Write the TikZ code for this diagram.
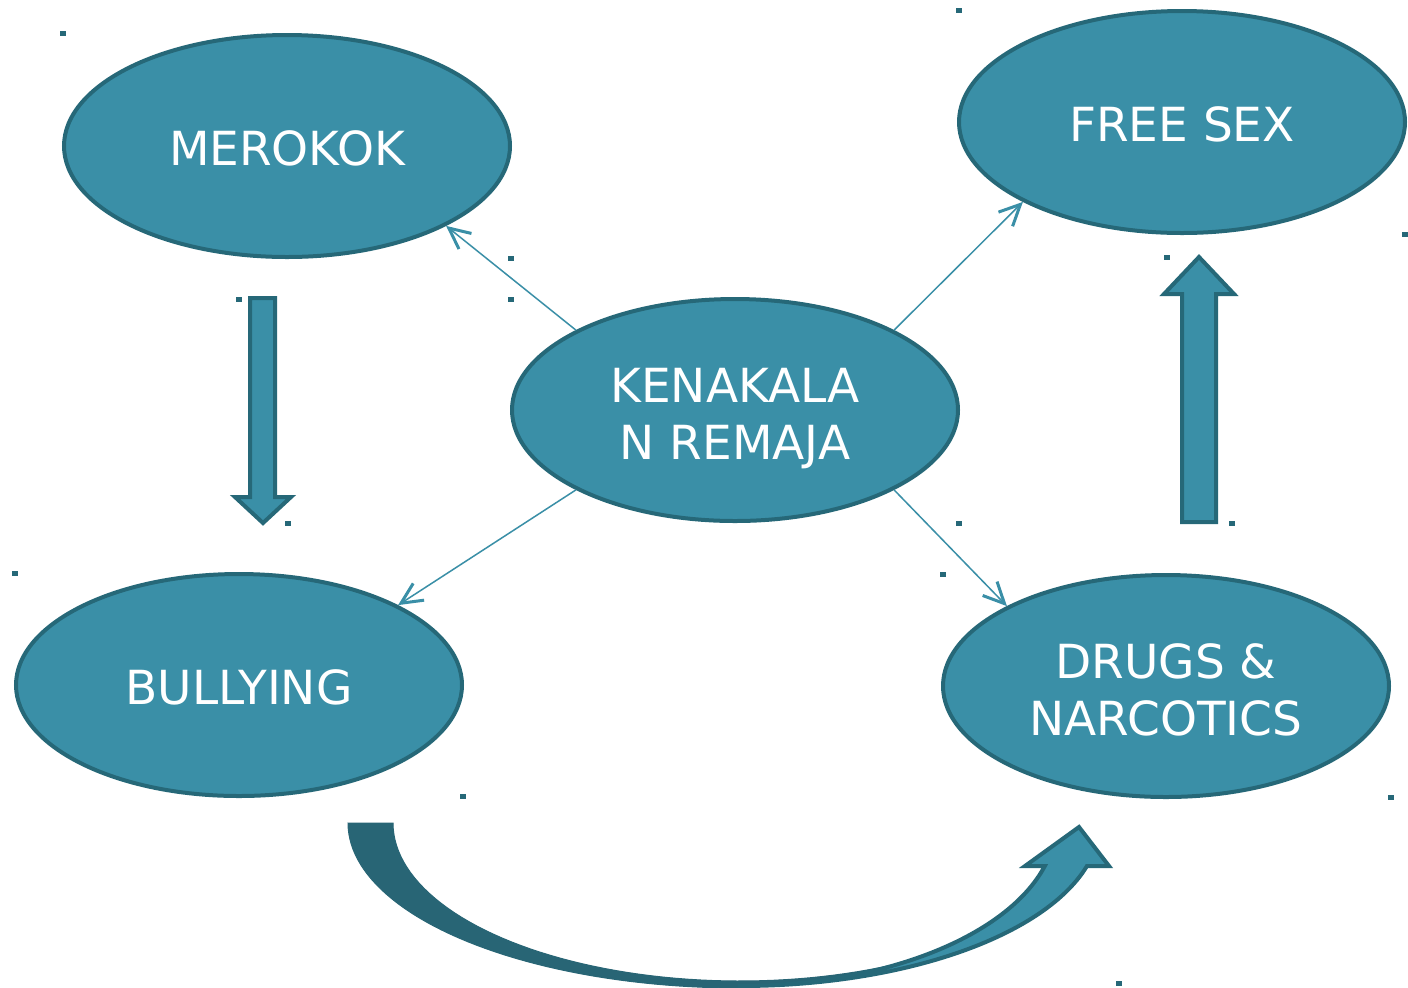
\documentclass[tikz,border=0pt]{standalone}
\usepackage{fontspec}
\setmainfont{DejaVu Sans}
\usetikzlibrary{shapes.geometric,arrows.meta}
\definecolor{fillc}{RGB}{58,143,167}
\definecolor{bordc}{RGB}{38,104,120}
\definecolor{darkc}{RGB}{40,101,117}
\begin{document}
\begin{tikzpicture}[x=0.5pt,y=-0.5pt,
  ell/.style={ellipse, draw=bordc, fill=fillc, line width=2pt,
    minimum width=223pt, minimum height=111pt, inner sep=0pt},
  lbl/.style={inner sep=0pt, text=white, font=\fontsize{23.5pt}{28.5pt}\selectfont,
    align=center, text depth=0pt},
  conn/.style={draw=fillc, line width=0.75pt,
    -{Straight Barb[length=10.5pt,width=10pt,line width=1.5pt]}},
  blockarrow/.style={draw=bordc, fill=fillc, line width=2pt, miter limit=10},
  dotmark/.style={fill=bordc}
]
\useasboundingbox (0,0) rectangle (1408,987);
\fill[white] (0,0) rectangle (1408,987);

% nodes
\node[ell] (m) at (287,146) {};
\node[ell] (f) at (1182,122) {};
\node[ell] (k) at (735,410) {};
\node[ell] (b) at (239,685) {};
\node[ell] (d) at (1166,686) {};

% labels
\node[lbl, yshift=-0.8pt] (mt) at (m) {MEROKOK};
\node[lbl, yshift=-0.8pt] (ft) at (f) {FREE SEX};
\node[lbl, yshift=-1.8pt] (kt) at (k) {KENAKALA\\N REMAJA};
\node[lbl, yshift=-0.8pt] (bt) at (b) {BULLYING};
\node[lbl, yshift=-1.8pt] (dt) at (d) {DRUGS \&\\NARCOTICS};

% thin connectors
\draw[conn] (k.north west) -- (m.south east);
\draw[conn] (k.north east) -- (f.south west);
\draw[conn] (k.south west) -- (b.north east);
\draw[conn] (k.south east) -- (d.north west);

% block arrow down (MEROKOK -> BULLYING)
\draw[blockarrow] (250,298) -- (275,298) -- (275,497) -- (291,497) -- (263,523)
  -- (235,497) -- (250,497) -- cycle;

% block arrow up (DRUGS -> FREE SEX)
\draw[blockarrow] (1182,522) -- (1216,522) -- (1216,294) -- (1234,294) -- (1199,257)
  -- (1164,294) -- (1182,294) -- cycle;

% curved arrow (BULLYING -> DRUGS): dark back part
\filldraw[fill=darkc, draw=darkc, line width=0.5pt]
  plot[domain=180:270, samples=50] ({740+392*cos(\x)}, {823-165*sin(\x)})
  -- plot[domain=270:300, samples=20] ({740+359.7*cos(\x)}, {823-163*sin(\x)})
  -- plot[domain=300:180, samples=60] ({740+347*cos(\x)}, {823-158*sin(\x)})
  -- cycle;
% curved arrow: light front part with head
\filldraw[blockarrow, line join=miter]
  plot[domain=270:344.7, samples=60] ({740+359.7*cos(\x)}, {823-163*sin(\x)})
  -- (1109,866) -- (1079,827) -- (1025,866)
  -- plot[domain=344.7:270, samples=60] ({740+316*cos(\x)}, {823-163*sin(\x)})
  -- cycle;

% small dots
\foreach \px/\py in {63/33, 959/10, 511/258, 511/299, 239/299, 288/523, 15/573,
  959/523, 943/574, 1167/257, 1232/523, 1405/234, 463/796, 1391/797, 1119/983}
  \fill[dotmark] (\px-3,\py-2.5) rectangle (\px+3,\py+2.5);
\end{tikzpicture}
\end{document}
